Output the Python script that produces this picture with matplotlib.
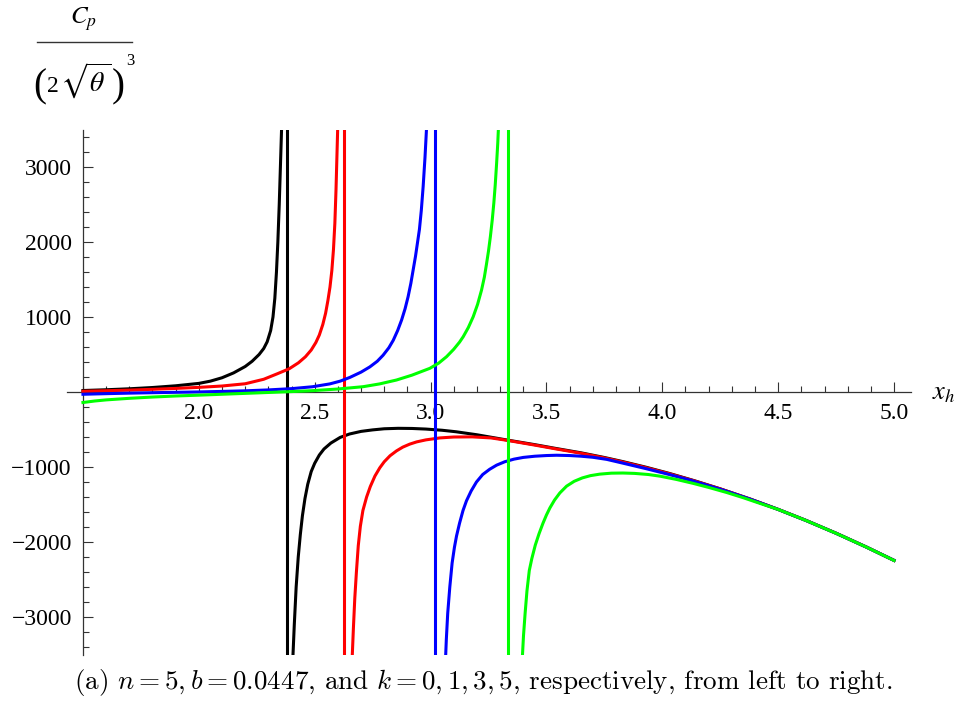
import matplotlib
matplotlib.use("agg")
import matplotlib.pyplot as plt
from matplotlib.lines import Line2D
from matplotlib.ticker import FixedLocator, MultipleLocator, FuncFormatter
from matplotlib.transforms import blended_transform_factory

# k = 0 (black)
k0_up_x = [1.50, 1.60, 1.70, 1.80, 1.90, 2.00, 2.05, 2.10, 2.15, 2.20, 2.23, 2.26, 2.28, 2.295,
           2.31, 2.32, 2.328, 2.335, 2.341, 2.347, 2.352, 2.358]
k0_up_y = [20, 30, 43, 60, 83, 115, 145, 190, 255, 340, 410, 500, 580, 670,
           820, 1000, 1250, 1600, 2000, 2500, 3000, 3600]
k0_lo_x = [2.405, 2.412, 2.420, 2.429, 2.438, 2.447, 2.458, 2.47, 2.485, 2.50, 2.52, 2.54, 2.57,
           2.61, 2.65, 2.70, 2.75, 2.80, 2.86, 2.92, 2.98, 3.05, 3.11, 3.20, 3.33, 3.45, 3.54,
           3.65, 3.75, 3.83, 3.93, 4.03, 4.14, 4.25, 4.38, 4.5, 4.62, 4.75, 4.88, 5.0]
k0_lo_y = [-3600, -3100, -2600, -2200, -1900, -1650, -1420, -1230, -1060, -950, -840, -760, -680,
           -605, -560, -525, -505, -490, -484, -486, -494, -510, -530, -570, -640, -702, -752,
           -811, -873, -928, -1003, -1085, -1184, -1291, -1428, -1565, -1712, -1883, -2066, -2245]

# k = 1 (red)
k1_up_x = [1.50, 1.60, 1.70, 1.80, 1.90, 2.00, 2.10, 2.20, 2.28, 2.34, 2.39, 2.43, 2.46, 2.485,
           2.505, 2.52, 2.535, 2.547, 2.557, 2.566, 2.574, 2.581, 2.587, 2.592, 2.596, 2.60]
k1_up_y = [10, 17, 25, 36, 48, 62, 80, 110, 170, 245, 310, 390, 470, 560,
           660, 760, 900, 1050, 1220, 1400, 1620, 1900, 2250, 2700, 3150, 3600]
k1_lo_x = [2.661, 2.667, 2.673, 2.68, 2.688, 2.697, 2.708, 2.724, 2.74, 2.76, 2.781, 2.80, 2.825,
           2.853, 2.88, 2.91, 2.94, 2.98, 3.04, 3.10, 3.18, 3.26, 3.33, 3.45, 3.54, 3.65, 3.75,
           3.83, 3.93, 4.03, 4.14, 4.25, 4.38, 4.5, 4.62, 4.75, 4.88, 5.0]
k1_lo_y = [-3600, -3150, -2750, -2400, -2050, -1790, -1580, -1400, -1260, -1120, -1010, -930, -850,
           -785, -735, -695, -665, -638, -612, -600, -598, -612, -644, -708, -758, -817, -879,
           -934, -1009, -1090, -1187, -1292, -1429, -1565, -1712, -1883, -2066, -2245]

# k = 3 (blue)
k3_up_x = [1.50, 1.60, 1.70, 1.80, 1.90, 2.00, 2.10, 2.20, 2.30, 2.40, 2.49, 2.565, 2.61, 2.652,
           2.70, 2.738, 2.77, 2.795, 2.82, 2.839, 2.858, 2.875, 2.89, 2.903, 2.915, 2.925, 2.935,
           2.944, 2.952, 2.96, 2.968, 2.976, 2.984]
k3_up_y = [-30, -22, -15, -9, -4, 1, 8, 16, 28, 45, 70, 108, 145, 195,
           265, 335, 410, 490, 590, 690, 820, 960, 1110, 1270, 1450, 1630, 1810,
           2000, 2170, 2420, 2740, 3130, 3600]
k3_lo_x = [3.064, 3.068, 3.074, 3.083, 3.093, 3.103, 3.112, 3.125, 3.14, 3.155, 3.175, 3.198, 3.225,
           3.255, 3.285, 3.32, 3.36, 3.40, 3.45, 3.50, 3.544, 3.60, 3.65, 3.70, 3.76, 3.832, 3.93,
           4.03, 4.12, 4.19, 4.26, 4.38, 4.5, 4.62, 4.75, 4.88, 5.0]
k3_lo_y = [-3600, -3300, -2950, -2600, -2280, -2070, -1920, -1750, -1580, -1450, -1320, -1200, -1100,
           -1030, -975, -930, -895, -872, -856, -847, -843, -847, -856, -870, -898, -950, -1022,
           -1100, -1175, -1240, -1306, -1430, -1566, -1713, -1884, -2067, -2245]

# k = 5 (green)
k5_up_x = [1.50, 1.55, 1.60, 1.70, 1.80, 1.90, 2.00, 2.10, 2.20, 2.30, 2.40, 2.49, 2.60, 2.709,
           2.78, 2.853, 2.92, 2.997, 3.035, 3.069, 3.10, 3.125, 3.141, 3.163, 3.184, 3.203, 3.22,
           3.232, 3.241, 3.25, 3.258, 3.266, 3.273, 3.279, 3.285, 3.29, 3.294]
k5_up_y = [-140, -120, -105, -84, -67, -53, -42, -30, -18, -6, 6, 18, 40, 71,
           108, 160, 225, 316, 385, 471, 570, 665, 738, 860, 1004, 1170, 1360,
           1530, 1700, 1880, 2070, 2290, 2520, 2760, 3050, 3320, 3600]
k5_lo_x = [3.395, 3.401, 3.408, 3.416, 3.426, 3.437, 3.452, 3.468, 3.485, 3.50, 3.515, 3.535, 3.558,
           3.587, 3.62, 3.655, 3.69, 3.73, 3.78, 3.83, 3.88, 3.94, 3.99, 4.06, 4.133, 4.20, 4.278,
           4.35, 4.407, 4.5, 4.62, 4.75, 4.88, 5.0]
k5_lo_y = [-3600, -3250, -2950, -2650, -2380, -2220, -2040, -1890, -1750, -1640, -1545, -1440, -1345,
           -1255, -1190, -1145, -1115, -1095, -1082, -1080, -1085, -1100, -1122, -1165, -1218, -1272, -1340,
           -1410, -1470, -1566, -1713, -1884, -2067, -2246]

poles = [2.381, 2.627, 3.019, 3.335]
colors = ['black', '#ff0000', '#0000ff', '#00ff00']

branches = [
    (k0_up_x, k0_up_y, k0_lo_x, k0_lo_y),
    (k1_up_x, k1_up_y, k1_lo_x, k1_lo_y),
    (k3_up_x, k3_up_y, k3_lo_x, k3_lo_y),
    (k5_up_x, k5_up_y, k5_lo_x, k5_lo_y),
]

x_major = [2.0, 2.5, 3.0, 3.5, 4.0, 4.5, 5.0]
y_major = [-3000, -2000, -1000, 0, 1000, 2000, 3000]

W, H = 956.0, 705.0
fig = plt.figure(figsize=(W / 100, H / 100), dpi=100)
ax = fig.add_axes([0.0698, 0.0716, 0.8831, 0.7447])

lw = 2.2
for (ux, uy, lx, ly), c, p in zip(branches, colors, poles):
    ax.plot(ux, uy, color=c, lw=lw, zorder=3, solid_joinstyle='round')
    ax.plot(lx, ly, color=c, lw=lw, zorder=3, solid_joinstyle='round')
    ax.axvline(p, color=c, lw=lw, zorder=3)

ax.set_xlim(1.43, 5.073)
ax.set_ylim(-3500, 3500)

for s in ['top', 'right']:
    ax.spines[s].set_visible(False)
ax.spines['bottom'].set_position(('data', 0))
ax.spines['left'].set_position(('data', 1.5))
for s in ['bottom', 'left']:
    ax.spines[s].set_linewidth(0.9)
    ax.spines[s].set_color('#333333')
    ax.spines[s].set_zorder(1)

ax.xaxis.set_major_locator(FixedLocator(x_major))
ax.xaxis.set_minor_locator(MultipleLocator(0.1))
ax.yaxis.set_major_locator(FixedLocator(y_major))
ax.yaxis.set_minor_locator(MultipleLocator(200))
ax.xaxis.set_major_formatter(FuncFormatter(lambda v, pos: "%.1f" % v))
ax.yaxis.set_major_formatter(FuncFormatter(
    lambda v, pos: "" if v == 0 else ("%d" % v).replace("-", "\u2212")))

ax.tick_params(which='both', direction='in', color='#333333', width=0.8,
               labelsize=17, labelfontfamily='Liberation Serif')
ax.tick_params(which='major', length=7)
ax.tick_params(which='minor', length=4.5)
ax.tick_params(axis='x', which='major', pad=8)
ax.tick_params(axis='y', which='major', pad=8)

trans = blended_transform_factory(ax.transAxes, ax.transData)
ax.text(1.025, 0, r"$x_h$", transform=trans, fontsize=19, va='center', ha='left',
        math_fontfamily='stix')


def px(x, y):
    return x / W, 1 - y / H


# y axis label: C_p over (2 sqrt(theta))^3, pieces laid out left to right
renderer = fig.canvas.get_renderer()
fig.text(*px(83, 19), r"$C_p$", fontsize=18, ha='center', va='center', math_fontfamily='stix')
fig.add_artist(Line2D([37 / W, 132 / W], [1 - 42 / H, 1 - 42 / H], color='#333333', lw=1.0))

pieces = [
    ("(", dict(fontsize=28, family='Liberation Serif'), 86.5, 'center'),
    ("2", dict(fontsize=17, family='Liberation Serif'), 92, 'baseline'),
    (r"$\sqrt{\theta\,}$", dict(fontsize=20, math_fontfamily='stix'), 92, 'baseline'),
    (")", dict(fontsize=28, family='Liberation Serif'), 86.5, 'center'),
    ("3", dict(fontsize=12, family='Liberation Serif'), 61, 'center'),
]
xcur = 33.0
for s, kw, ypos, va in pieces:
    t = fig.text(*px(xcur, ypos), s, ha='left', va=va, **kw)
    bb = t.get_window_extent(renderer)
    xcur = bb.x1 + 1.0

fig.text(0.5052, 1 - 683 / H,
         r"(a) $n=5, b=0.0447$, and $k=0,1,3,5$, respectively, from left to right.",
         family='cmr10', math_fontfamily='cm', fontsize=19.5, ha='center', va='center')

plt.savefig('out.png', dpi=100)
plt.close()
